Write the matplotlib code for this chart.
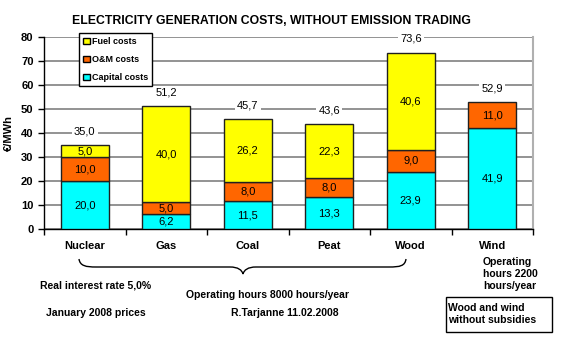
import matplotlib.pyplot as plt
from matplotlib.path import Path
from matplotlib.patches import PathPatch, Patch, Rectangle
import numpy as np

plt.rcParams['font.family'] = ['Liberation Sans', 'DejaVu Sans']

categories = ["Nuclear", "Gas", "Coal", "Peat", "Wood", "Wind"]
capital = [20.0, 6.2, 11.5, 13.3, 23.9, 41.9]
om = [10.0, 5.0, 8.0, 8.0, 9.0, 11.0]
fuel = [5.0, 40.0, 26.2, 22.3, 40.6, 0.0]
totals = [35.0, 51.2, 45.7, 43.6, 73.6, 52.9]

c_fuel = '#FFFF00'
c_om = '#FF6600'
c_cap = '#00FFFF'

W, H = 562, 337
fig = plt.figure(figsize=(W / 100, H / 100), dpi=100)
ax = fig.add_axes([44 / W, 1 - 229 / H, (533 - 44) / W, (229 - 37) / H])

x = np.arange(len(categories))
cap = np.array(capital)
omv = np.array(om)
fu = np.array(fuel)
bw = 0.59
ec = '#202020'
ax.bar(x, cap, bw, color=c_cap, edgecolor=ec, linewidth=1, zorder=3)
ax.bar(x, omv, bw, bottom=cap, color=c_om, edgecolor=ec, linewidth=1, zorder=3)
has_fuel = fu > 0
ax.bar(x[has_fuel], fu[has_fuel], bw, bottom=(cap + omv)[has_fuel], color=c_fuel,
       edgecolor=ec, linewidth=1, zorder=3)

def fmt(v):
    return f"{v:.1f}".replace('.', ',')

# segment labels
for i in range(len(categories)):
    ax.text(x[i], cap[i] / 2, fmt(cap[i]), ha='center', va='center', fontsize=8, zorder=4)
    ax.text(x[i], cap[i] + omv[i] / 2, fmt(omv[i]), ha='center', va='center', fontsize=8, zorder=4)
    if fu[i] > 0:
        ax.text(x[i], cap[i] + omv[i] + fu[i] / 2, fmt(fu[i]), ha='center', va='center',
                fontsize=8, zorder=4)
    ax.text(x[i], totals[i] + 5.6, fmt(totals[i]), ha='center', va='center', fontsize=8,
            zorder=4, bbox=dict(facecolor='white', edgecolor='none', pad=1.5))

ax.set_xlim(-0.5, 5.5)
ax.set_ylim(0, 80)
ax.set_yticks(range(0, 81, 10))
ax.set_xticks(np.arange(-0.5, 6, 1))
ax.set_xticklabels([])
ax.tick_params(axis='x', length=4, width=1, direction='out')
ax.tick_params(axis='y', length=4, width=1, direction='out', labelsize=8)
for lab in ax.get_yticklabels():
    lab.set_fontweight('bold')
ax.yaxis.grid(True, color='#808080', linewidth=1.2, zorder=0)
ax.set_axisbelow(True)
ax.spines['top'].set_visible(False)
ax.spines['right'].set_color('#b0b0b0')
ax.spines['right'].set_linewidth(1.5)
ax.spines['left'].set_linewidth(1)
ax.spines['bottom'].set_linewidth(1)
ax.set_ylabel("€/MWh", fontsize=8, fontweight='bold', labelpad=5)

for i, c in enumerate(categories):
    ax.text(x[i], -7, c, ha='center', va='center', fontsize=8, fontweight='bold')

handles = [Patch(facecolor=c_fuel, edgecolor='black'),
           Patch(facecolor=c_om, edgecolor='black'),
           Patch(facecolor=c_cap, edgecolor='black')]
leg = ax.legend(handles, ["Fuel costs", "O&M costs", "Capital costs"],
                loc='upper left', bbox_to_anchor=(0.072, 1.02),
                prop={'weight': 'bold', 'size': 6.5}, handlelength=0.7, handleheight=0.7,
                handletextpad=0.25, labelspacing=1.0, borderpad=0.45, borderaxespad=0,
                fancybox=False, framealpha=1, edgecolor='black')
leg.get_frame().set_linewidth(1)
leg.set_zorder(5)

fig.text(271 / W, 1 - 21 / H, "ELECTRICITY GENERATION COSTS, WITHOUT EMISSION TRADING",
         ha='center', va='center', fontsize=8.8, fontweight='bold')

# brace under the fuel-based plants
def P(px, py):
    return (px / W, 1 - py / H)

verts = [P(79, 259), P(80, 266), P(86, 267), P(96, 267),
         P(230, 267),
         P(238, 267), P(242, 270), P(243, 274),
         P(244, 270), P(248, 267), P(256, 267),
         P(389, 267),
         P(400, 267), P(405, 266), P(406, 259)]
codes = [Path.MOVETO, Path.CURVE4, Path.CURVE4, Path.CURVE4,
         Path.LINETO,
         Path.CURVE4, Path.CURVE4, Path.CURVE4,
         Path.CURVE4, Path.CURVE4, Path.CURVE4,
         Path.LINETO,
         Path.CURVE4, Path.CURVE4, Path.CURVE4]
fig.add_artist(PathPatch(Path(verts, codes), transform=fig.transFigure,
                         facecolor='none', edgecolor='black', linewidth=1))

fs = 7.5
fig.text(483 / W, 1 - 257 / H, "Operating\nhours 2200\nhours/year", ha='left', va='top',
         fontsize=fs, fontweight='bold', linespacing=1.25)
fig.text(96 / W, 1 - 286 / H, "Real interest rate 5,0%", ha='center', va='center',
         fontsize=fs, fontweight='bold')
fig.text(96 / W, 1 - 313 / H, "January 2008 prices", ha='center', va='center',
         fontsize=fs, fontweight='bold')
fig.text(268 / W, 1 - 295 / H, "Operating hours 8000 hours/year", ha='center', va='center',
         fontsize=fs, fontweight='bold')
fig.text(285 / W, 1 - 313 / H, "R.Tarjanne 11.02.2008", ha='center', va='center',
         fontsize=fs, fontweight='bold')
fig.add_artist(Rectangle(P(446, 332), (552 - 446) / W, (332 - 297) / H,
                         transform=fig.transFigure, facecolor='white', edgecolor='black',
                         linewidth=1))
fig.text(448 / W, 1 - 314 / H, "Wood and wind\nwithout subsidies", ha='left', va='center',
         fontsize=fs, fontweight='bold', linespacing=1.3)

fig.savefig("out.png", dpi=100)
